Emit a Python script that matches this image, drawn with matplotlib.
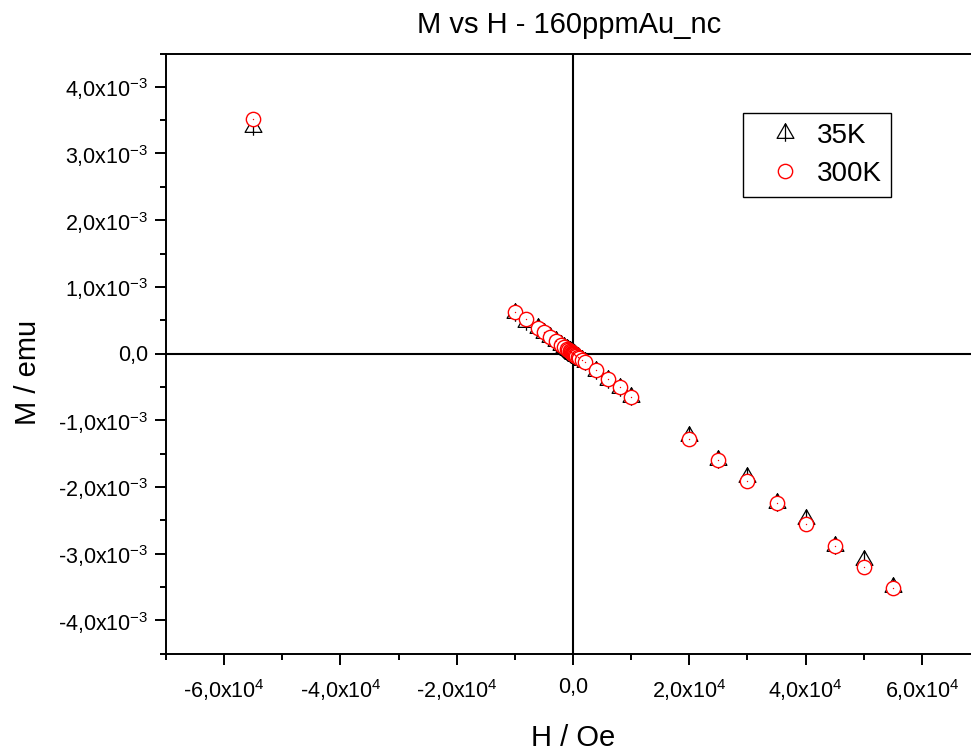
import matplotlib
matplotlib.use('Agg')
import matplotlib.pyplot as plt
from matplotlib.path import Path
from matplotlib.ticker import FixedLocator, MultipleLocator, FixedFormatter

plt.rcParams['font.family'] = ['Liberation Sans', 'DejaVu Sans']
plt.rcParams['mathtext.fontset'] = 'custom'
plt.rcParams['mathtext.rm'] = 'Liberation Sans'
plt.rcParams['mathtext.it'] = 'Liberation Sans:italic'
plt.rcParams['mathtext.bf'] = 'Liberation Sans:bold'

# ---------------- data ----------------
title = 'M vs H - 160ppmAu_nc'
x_label = 'H / Oe'
y_label = 'M / emu'

H_35K = [-55000, -10000, -8000, -6000, -5000, -4000, -3000, -2000, -1500, -1000,
         -800, -600, -500, -400, -300, -200, -100, -50, 0, 50, 100, 200, 300, 400,
         500, 600, 800, 1000, 1500, 2000, 4000, 6000, 8000, 10000,
         20000, 25000, 30000, 35000, 40000, 45000, 50000, 55000]
M_35K = [3.40e-3, 0.612e-3, 0.480e-3, 0.380e-3, 0.315e-3, 0.250e-3, 0.185e-3, 0.125e-3, 0.094e-3, 0.062e-3,
         0.050e-3, 0.037e-3, 0.031e-3, 0.025e-3, 0.018e-3, 0.012e-3, 0.006e-3, 0.003e-3, 0.0, -0.003e-3,
         -0.006e-3, -0.013e-3, -0.019e-3, -0.026e-3, -0.032e-3, -0.039e-3, -0.052e-3, -0.065e-3,
         -0.098e-3, -0.130e-3, -0.255e-3, -0.390e-3, -0.510e-3, -0.655e-3,
         -1.233e-3, -1.590e-3, -1.852e-3, -2.240e-3, -2.483e-3, -2.880e-3, -3.104e-3, -3.500e-3]

H_300K = [-55000, -10000, -8000, -6000, -5000, -4000, -3000, -2000, -1500, -1000,
          -800, -600, -500, -400, -300, -200, -100, -50, 0, 50, 100, 200, 300, 400,
          500, 600, 800, 1000, 1500, 2000, 4000, 6000, 8000, 10000,
          20000, 25000, 30000, 35000, 40000, 45000, 50000, 55000]
M_300K = [3.513e-3, 0.627e-3, 0.513e-3, 0.390e-3, 0.320e-3, 0.255e-3, 0.190e-3, 0.128e-3, 0.096e-3, 0.064e-3,
          0.051e-3, 0.038e-3, 0.032e-3, 0.026e-3, 0.019e-3, 0.013e-3, 0.006e-3, 0.003e-3, 0.0, -0.003e-3,
          -0.006e-3, -0.013e-3, -0.019e-3, -0.026e-3, -0.032e-3, -0.038e-3, -0.051e-3, -0.064e-3,
          -0.096e-3, -0.123e-3, -0.247e-3, -0.387e-3, -0.507e-3, -0.648e-3,
          -1.282e-3, -1.597e-3, -1.912e-3, -2.242e-3, -2.562e-3, -2.883e-3, -3.198e-3, -3.522e-3]

series_labels = ['35K', '300K']

x_ticks = [-6e4, -4e4, -2e4, 0, 2e4, 4e4, 6e4]
x_tick_labels = [r'-6,0x10$^{\mathregular{4}}$', r'-4,0x10$^{\mathregular{4}}$', r'-2,0x10$^{\mathregular{4}}$',
                 '0,0', r'2,0x10$^{\mathregular{4}}$', r'4,0x10$^{\mathregular{4}}$', r'6,0x10$^{\mathregular{4}}$']
y_ticks = [-4e-3, -3e-3, -2e-3, -1e-3, 0, 1e-3, 2e-3, 3e-3, 4e-3]
y_tick_labels = [r'-4,0x10$^{\mathregular{-3}}$', r'-3,0x10$^{\mathregular{-3}}$', r'-2,0x10$^{\mathregular{-3}}$',
                 r'-1,0x10$^{\mathregular{-3}}$', '0,0', r'1,0x10$^{\mathregular{-3}}$',
                 r'2,0x10$^{\mathregular{-3}}$', r'3,0x10$^{\mathregular{-3}}$', r'4,0x10$^{\mathregular{-3}}$']

# ---------------- figure ----------------
W, Hpx = 971, 752
fig = plt.figure(figsize=(W / 100, Hpx / 100), dpi=100)
ax = fig.add_axes([166 / W, (Hpx - 653.5) / Hpx, 814 / W, 600 / Hpx])

ax.set_xlim(-7e4, 7e4)
ax.set_ylim(-4.5e-3, 4.5e-3)

ax.axhline(0, color='black', lw=1.5, zorder=1)
ax.axvline(0, color='black', lw=1.5, zorder=1)

# triangle with a vertical stick (Origin-like marker)
tri_verts = [(0, 1), (-0.866, -0.5), (0.866, -0.5), (0, 1), (0, 1), (0, -0.85)]
tri_codes = [Path.MOVETO, Path.LINETO, Path.LINETO, Path.CLOSEPOLY, Path.MOVETO, Path.LINETO]
tri_marker = Path(tri_verts, tri_codes)

l1, = ax.plot(H_35K, M_35K, linestyle='none', marker=tri_marker, markersize=14.0,
              markerfacecolor='none', markeredgecolor='black', markeredgewidth=0.9,
              zorder=3, label=series_labels[0])
l2, = ax.plot(H_300K, M_300K, linestyle='none', marker='o', markersize=10.3,
              markerfacecolor='white', markeredgecolor='red', markeredgewidth=1.0,
              zorder=4, label=series_labels[1])
ax.plot(H_300K, M_300K, linestyle='none', marker='o', markersize=1.0,
        markerfacecolor='red', markeredgecolor='none', zorder=5)

ax.spines['right'].set_visible(False)
for side in ['left', 'bottom', 'top']:
    ax.spines[side].set_linewidth(1.4)

ax.xaxis.set_major_locator(FixedLocator(x_ticks))
ax.xaxis.set_major_formatter(FixedFormatter(x_tick_labels))
ax.xaxis.set_minor_locator(MultipleLocator(1e4))
ax.yaxis.set_major_locator(FixedLocator(y_ticks))
ax.yaxis.set_major_formatter(FixedFormatter(y_tick_labels))
ax.yaxis.set_minor_locator(MultipleLocator(0.5e-3))

ax.tick_params(which='major', direction='out', length=8, width=1.4, labelsize=15.5,
               top=False, right=False)
ax.tick_params(which='minor', direction='out', length=4.5, width=1.4, top=False, right=False)
ax.tick_params(axis='x', which='major', pad=9)
ax.tick_params(axis='y', which='major', pad=4.5)

ax.set_xlabel(x_label, fontsize=21)
ax.xaxis.set_label_coords(0.5, -0.118)
ax.set_ylabel(y_label, fontsize=21)
ax.yaxis.set_label_coords(-0.152, 0.469)

fig.text(569 / W, 1 - 33 / Hpx, title, fontsize=21, ha='center', va='baseline')

leg = ax.legend(handles=[l1, l2], loc='upper left', bbox_to_anchor=(0.709, 0.901),
                borderaxespad=0, fontsize=20, frameon=True, fancybox=False,
                edgecolor='black', framealpha=1, numpoints=1, handlelength=2.3,
                handletextpad=0.0, borderpad=0.35, labelspacing=0.45)
leg.get_frame().set_linewidth(1.0)

fig.savefig('out.png', dpi=100)
